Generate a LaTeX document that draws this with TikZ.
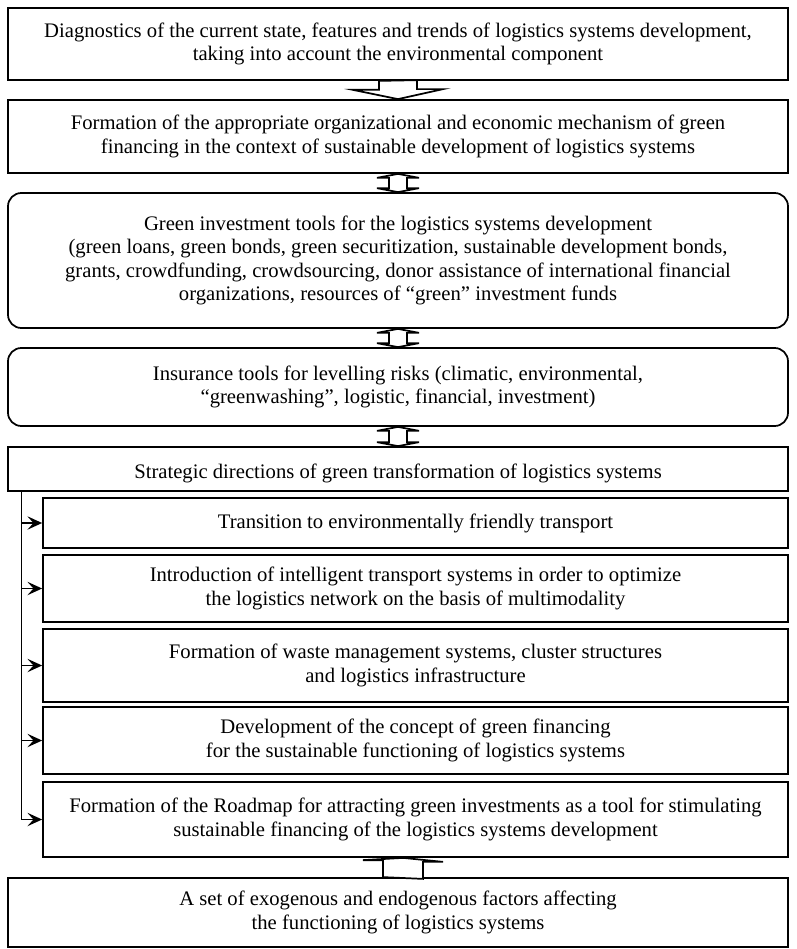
\documentclass[tikz,border=0pt]{standalone}
\usepackage{fontspec}
\setmainfont{Liberation Serif}
\usetikzlibrary{arrows.meta,calc}
\begin{document}
\begin{tikzpicture}[x=0.75pt,y=-0.75pt,
  every node/.style={font=\fontsize{15.5}{17.5}\selectfont},
  box/.style={draw,line width=1.3pt,rectangle,align=center,inner sep=0pt},
  rbox/.style={box,rounded corners=10pt},
  blockarrow/.style={draw,line width=1.3pt,fill=white,line join=miter},
  feed/.style={line width=1.3pt,-{Stealth[length=11pt,width=10pt,inset=4.5pt]}}]
\useasboundingbox (0,0) rectangle (796,949);
% main boxes
\node[box,minimum width=780*0.75pt,minimum height=72*0.75pt] (b1) at (398,44)
 {Diagnostics of the current state, features and trends of logistics systems development,\\ taking into account the environmental component};
\node[box,minimum width=780*0.75pt,minimum height=73*0.75pt] (b2) at (398,136.5)
 {Formation of the appropriate organizational and economic mechanism of green\\ financing in the context of sustainable development of logistics systems};
\node[rbox,minimum width=780*0.75pt,minimum height=135*0.75pt] (b3) at (398,260.5)
 {Green investment tools for the logistics systems development\\ (green loans, green bonds, green securitization, sustainable development bonds,\\ grants, crowdfunding, crowdsourcing, donor assistance of international financial\\ organizations, resources of “green” investment funds};
\node[rbox,minimum width=780*0.75pt,minimum height=78*0.75pt] (b4) at (398,387)
 {Insurance tools for levelling risks (climatic, environmental,\\ “greenwashing”, logistic, financial, investment)};
\node[box,minimum width=780*0.75pt,minimum height=44*0.75pt] (b5) at (398,469) {};
\node[anchor=base] (b5t) at (398,478) {Strategic directions of green transformation of logistics systems};
% sub boxes
\node[box,minimum width=745*0.75pt,minimum height=50*0.75pt] (s1) at (415.5,523)
 {Transition to environmentally friendly transport};
\node[box,minimum width=745*0.75pt,minimum height=67*0.75pt] (s2) at (415.5,588.5)
 {Introduction of intelligent transport systems in order to optimize\\ the logistics network on the basis of multimodality};
\node[box,minimum width=745*0.75pt,minimum height=73*0.75pt] (s3) at (415.5,665.5)
 {Formation of waste management systems, cluster structures\\ and logistics infrastructure};
\node[box,minimum width=745*0.75pt,minimum height=67*0.75pt] (s4) at (415.5,740.5)
 {Development of the concept of green financing\\ for the sustainable functioning of logistics systems};
\node[box,minimum width=745*0.75pt,minimum height=75*0.75pt] (s5) at (415.5,819.5)
 {Formation of the Roadmap for attracting green investments as a tool for stimulating\\ sustainable financing of the logistics systems development};
\node[box,minimum width=780*0.75pt,minimum height=69*0.75pt] (b6) at (398,912.5)
 {A set of exogenous and endogenous factors affecting\\ the functioning of logistics systems};
% down block arrow b1 -> b2
\draw[blockarrow] (b1.south) ++(-19,0) -- ++(0,9) -- ++(-26,0) -- (b2.north) -- ++(45,-10) -- ++(-26,0) -- ++(0,-9) -- cycle;
% double block arrows
\foreach \u/\l in {b2/b3,b3/b4,b4/b5}{
  \path (\u.south) coordinate (top) (\l.north) coordinate (bot);
  \draw[blockarrow] (top) -- ($(top)+(21,4)$) -- ($(top)+(9,4)$) -- ($(bot)+(9,-4)$) -- ($(bot)+(21,-4)$) -- (bot)
     -- ($(bot)+(-21,-4)$) -- ($(bot)+(-9,-4)$) -- ($(top)+(-9,4)$) -- ($(top)+(-21,4)$) -- cycle;
}
% up block arrow b6 -> s5
\coordinate (upx) at (403,0);
\draw[blockarrow] (b6.north -| upx) ++(-20,0) -- ++(0,-17) -- ++(-20,0) -- (s5.south -| upx) -- ++(40,4) -- ++(-20,0) -- ++(0,17) -- cycle;
% trunk
\coordinate (trunk) at (21.5,491);
\draw[line width=1.3pt] (b5.south -| trunk) -- (s5.west -| trunk);
\foreach \s in {s1,s2,s3,s4,s5}{
  \draw[feed] (\s.west -| trunk) -- (\s.west);
}
\end{tikzpicture}
\end{document}
